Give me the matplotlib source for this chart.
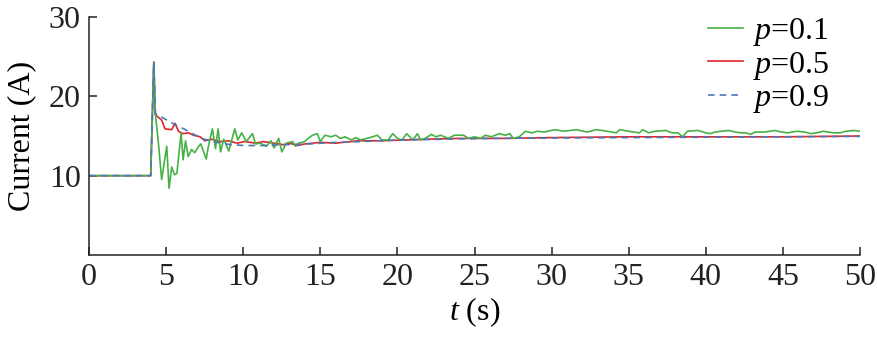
import matplotlib
matplotlib.use("Agg")
import matplotlib.pyplot as plt

plt.rcParams['font.family'] = ['Liberation Serif', 'DejaVu Serif']
plt.rcParams['mathtext.fontset'] = 'custom'
plt.rcParams['mathtext.it'] = 'Liberation Serif:italic'
plt.rcParams['mathtext.rm'] = 'Liberation Serif'

t_p01 = [0, 4.0, 4.2, 4.3, 4.5, 4.71, 5.04, 5.19, 5.36, 5.55, 5.7, 5.97, 6.1, 6.26, 6.43,
         6.65, 6.86, 7.07, 7.25, 7.6, 7.75, 8.0, 8.2, 8.37, 8.53, 8.74, 9.06, 9.45, 9.65,
         9.9, 10.2, 10.6, 10.8, 11.1, 11.5, 11.8, 12.0, 12.3, 12.5, 12.8, 13.2, 13.4, 13.6,
         14.0, 14.2, 14.5, 14.8, 15.0, 15.3, 15.7, 16.0, 16.3, 16.6, 17.0, 17.3, 17.6, 18.0,
         18.4, 18.7, 19.0, 19.4, 19.7, 20.0, 20.3, 20.6, 21.0, 21.3, 21.5, 21.8, 22.2, 22.5,
         22.8, 23.3, 23.7, 24.3, 24.6, 25.0, 25.4, 25.7, 26.1, 26.6, 27.0, 27.3, 27.5, 27.9,
         28.3, 28.7, 29.1, 29.5, 30.2, 30.8, 31.6, 32.3, 32.9, 33.6, 34.2, 34.4, 35.0, 35.7,
         35.9, 36.3, 36.7, 37.4, 37.8, 38.2, 38.5, 38.8, 39.5, 40.0, 40.3, 40.6, 41.0, 41.5,
         41.9, 42.3, 42.6, 42.9, 43.2, 43.8, 44.5, 44.9, 45.3, 45.9, 46.4, 46.8, 47.2, 47.6,
         48.3, 48.7, 49.1, 49.6, 50.0]
i_p01 = [10.0, 10.0, 24.3, 17.9, 14.1, 9.5, 13.7, 8.4, 11.1, 10.1, 10.3, 15.4, 12.0, 14.4, 12.4,
         13.3, 12.9, 13.6, 14.0, 12.1, 13.8, 15.9, 13.4, 15.9, 13.0, 14.6, 13.1, 15.9, 14.5,
         15.4, 14.3, 15.3, 14.0, 14.1, 13.7, 14.4, 13.5, 14.7, 13.0, 14.1, 14.3, 13.7, 14.1,
         14.3, 14.7, 15.1, 15.3, 14.3, 15.1, 14.9, 15.1, 14.7, 14.9, 14.5, 14.8, 14.5, 14.7,
         14.9, 15.1, 14.5, 14.5, 15.3, 14.7, 14.5, 15.3, 14.5, 15.3, 14.5, 14.7, 15.2, 14.9,
         15.1, 14.7, 15.1, 15.1, 14.7, 14.9, 14.7, 15.1, 14.9, 15.3, 15.1, 15.3, 14.7, 14.9,
         15.6, 15.4, 15.6, 15.5, 15.8, 15.6, 15.8, 15.5, 15.8, 15.6, 15.4, 15.8, 15.6, 15.4,
         15.8, 15.4, 15.6, 15.7, 15.4, 15.4, 14.9, 15.6, 15.7, 15.4, 15.3, 15.5, 15.6, 15.7,
         15.5, 15.4, 15.4, 15.2, 15.5, 15.5, 15.7, 15.5, 15.4, 15.6, 15.5, 15.3, 15.4, 15.6,
         15.4, 15.4, 15.6, 15.7, 15.6]

t_p05 = [0, 4.0, 4.2, 4.3, 4.71, 4.93, 5.36, 5.58, 5.8, 6.1, 6.45, 6.77, 7.2, 7.52, 7.95, 8.5,
         9.03, 9.6, 10.1, 10.8, 11.3, 12.0, 12.6, 13.0, 13.5, 14.0, 15.0, 16.0, 17.5, 19.0,
         20.5, 22.0, 24.0, 27.0, 30.0, 35.0, 40.0, 45.0, 50.0]
i_p05 = [10.0, 10.0, 24.3, 17.7, 17.0, 15.9, 15.8, 16.6, 15.6, 15.3, 15.4, 15.1, 14.9, 14.4,
         14.6, 14.3, 14.4, 14.1, 14.3, 14.1, 14.3, 14.1, 13.9, 14.1, 13.8, 14.0, 14.2, 14.1,
         14.4, 14.4, 14.5, 14.6, 14.7, 14.7, 14.8, 14.9, 14.9, 14.9, 15.0]

t_p09 = [0, 4.0, 4.2, 4.3, 5.06, 5.6, 6.15, 6.8, 7.45, 8.3, 9.2, 10.1, 11.3, 12.5, 14.3, 16.0,
         17.6, 20.0, 23.0, 26.0, 30.0, 35.0, 40.0, 45.0, 50.0]
i_p09 = [10.0, 10.0, 24.3, 17.8, 17.0, 16.4, 15.9, 15.2, 14.6, 14.2, 13.9, 13.8, 13.8, 13.9,
         14.0, 14.2, 14.3, 14.5, 14.6, 14.7, 14.75, 14.8, 14.85, 14.9, 14.95]

labels = ['$p$=0.1', '$p$=0.5', '$p$=0.9']
x_ticks = [0, 5, 10, 15, 20, 25, 30, 35, 40, 45, 50]
y_ticks = [10, 20, 30]

fig = plt.figure(figsize=(8.78, 3.38), dpi=100)
ax = fig.add_axes([0.1014, 0.2456, 0.8781, 0.704])

l2, = ax.plot(t_p05, i_p05, color='#e0262b', lw=1.2, label=labels[1])
l1, = ax.plot(t_p01, i_p01, color='#45b245', lw=1.2, label=labels[0])
l3, = ax.plot(t_p09, i_p09, color='#4a78b8', lw=1.2, ls=(0, (4, 3)), label=labels[2])

ax.set_xlim(0, 50)
ax.set_ylim(0, 30)
ax.set_xticks(x_ticks)
ax.set_yticks(y_ticks)
for s in ['top', 'right']:
    ax.spines[s].set_visible(False)
for s in ['left', 'bottom']:
    ax.spines[s].set_linewidth(1.1)
    ax.spines[s].set_color('#222222')
ax.tick_params(direction='in', length=6, width=1.1, labelsize=23, colors='#222222', pad=6)
ax.set_xlabel('$t$ (s)', fontsize=23, labelpad=2)
ax.set_ylabel('Current (A)', fontsize=23, labelpad=9)

ax.legend(handles=[l1, l2, l3], loc='upper right', bbox_to_anchor=(0.977, 1.058), frameon=False,
          fontsize=23, handlelength=1.1, handletextpad=0.3, labelspacing=0.05,
          borderaxespad=0)

fig.savefig('out.png', dpi=100)
